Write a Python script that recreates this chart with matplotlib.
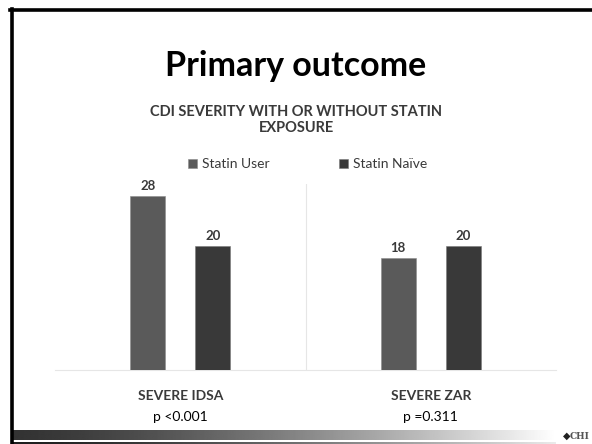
import numpy as np
import matplotlib
matplotlib.use("Agg")
import matplotlib.pyplot as plt

plt.rcParams["font.family"] = ["Lato", "DejaVu Sans"]

categories = ["SEVERE IDSA", "SEVERE ZAR"]
p_values = ["p <0.001", "p =0.311"]
series_names = ["Statin User", "Statin Naïve"]
statin_user = [28, 18]
statin_naive = [20, 20]

USER = "#5a5a5a"
NAIVE = "#393939"
TEXT = "#3a3a3a"
GRID = "#e6e6e6"

W, H = 592, 444
fig = plt.figure(figsize=(W / 100, H / 100), dpi=100)


def fx(px):
    return px / W


def fy(py):
    return 1 - py / H


# slide frame: heavy top and left rules
fig.add_artist(plt.Line2D([fx(10), 1], [fy(10.5), fy(10.5)], color="black", lw=2.6))
fig.add_artist(plt.Line2D([fx(11.5), fx(11.5)], [fy(9), 0], color="black", lw=2.6))

# footer gradient band, dark on the left fading out to white
t = np.linspace(0, 1, 512)
shade = np.clip(0.2 + 0.8 * t ** 1.4, 0, 1)
gax = fig.add_axes([fx(13), fy(440), fx(556) - fx(13), fy(429.5) - fy(440)])
gax.imshow(shade[None, :], aspect="auto", cmap="gray", vmin=0, vmax=1)
gax.axis("off")
gax2 = fig.add_axes([fx(13), 0, fx(556) - fx(13), fy(441.5)])
gax2.imshow(np.clip(shade - 0.08, 0, 1)[None, :], aspect="auto", cmap="gray", vmin=0, vmax=1)
gax2.axis("off")

# small logo in the corner
fig.text(fx(563), fy(436), "\u25C6", fontsize=7, color="#222222", ha="left", va="center")
fig.text(fx(570), fy(436), "CHI", fontsize=6.5, color="#555555", ha="left", va="center",
         family="DejaVu Serif", fontweight="bold")

fig.text(0.5, fy(66), "Primary outcome", fontsize=24.5, fontweight="bold",
         ha="center", va="center", color="black")
fig.text(0.5, fy(112), "CDI SEVERITY WITH OR WITHOUT STATIN", fontsize=10.5,
         fontweight="bold", ha="center", va="center", color=TEXT)
fig.text(0.5, fy(128), "EXPOSURE", fontsize=10.5, fontweight="bold",
         ha="center", va="center", color=TEXT)

ax = fig.add_axes([fx(55), fy(370), fx(556) - fx(55), fy(184) - fy(370)])
x = np.arange(len(categories))
bw = 0.14
off = 0.13
b1 = ax.bar(x - off, statin_user, bw, color=USER, edgecolor="#8a8a8a", linewidth=0.4,
            label=series_names[0], zorder=3)
b2 = ax.bar(x + off, statin_naive, bw, color=NAIVE, edgecolor="#7a7a7a", linewidth=0.4,
            label=series_names[1], zorder=3)
for bars in (b1, b2):
    ax.bar_label(bars, padding=3, fontsize=9.5, fontweight="bold", color=TEXT)

ax.set_xlim(-0.5, 1.5)
ax.set_ylim(0, 30)
ax.set_yticks([])
ax.set_xticks([])
ax.axvline(0.5, color=GRID, lw=0.8, zorder=1)
for s in ("top", "right", "left"):
    ax.spines[s].set_visible(False)
ax.spines["bottom"].set_color(GRID)
ax.spines["bottom"].set_linewidth(0.8)

for i, (cat, p) in enumerate(zip(categories, p_values)):
    ax.text(i, -26 / 6.2, cat, fontsize=10, fontweight="bold", color=TEXT,
            ha="center", va="center")
    ax.text(i, -47 / 6.2, p, fontsize=10, color="black", ha="center", va="center")

fig.legend(handles=[b1, b2], labels=series_names, loc="center",
           bbox_to_anchor=(fx(308), fy(164)), ncol=2, frameon=False, fontsize=10,
           handlelength=0.6, handleheight=0.6, handletextpad=0.4, columnspacing=5.0,
           labelcolor=TEXT)

fig.savefig("out.png", dpi=100)
